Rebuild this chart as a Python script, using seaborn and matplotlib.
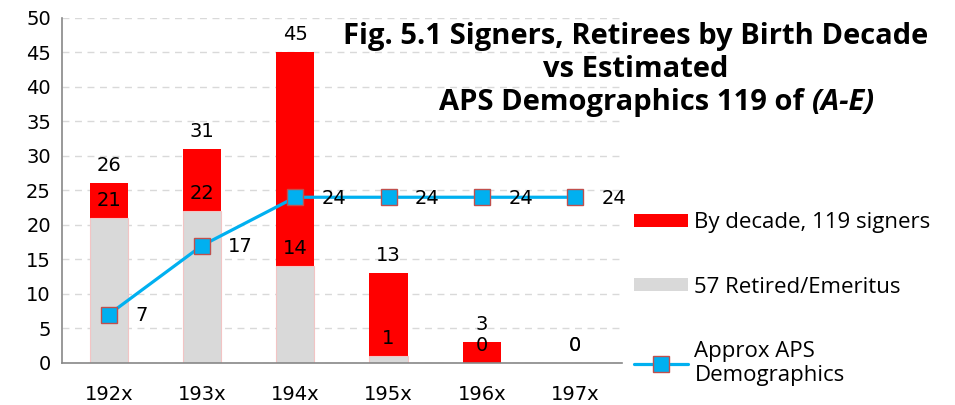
import matplotlib
matplotlib.use("Agg")
import matplotlib.pyplot as plt
import seaborn as sns
import pandas as pd
from matplotlib.patches import Patch
from matplotlib.lines import Line2D

# --- dados ---
decades = ["192x", "193x", "194x", "195x", "196x", "197x"]
signers = [26, 31, 45, 13, 3, 0]
retired = [21, 22, 14, 1, 0, 0]
aps_demo = [7, 17, 24, 24, 24, 24]

RED = "#FF0000"
GRAY = "#D9D9D9"
BLUE = "#00B0F0"
EDGE = "#C0504D"
FS = 14

df = pd.DataFrame({"decade": decades, "signers": signers,
                   "retired": retired, "aps": aps_demo})

sns.set_style("white")
plt.rcParams["font.family"] = ["DejaVu Sans"]
plt.rcParams["text.color"] = "black"
plt.rcParams["xtick.color"] = "black"
plt.rcParams["ytick.color"] = "black"

fig = plt.figure(figsize=(9.55, 4.05), dpi=100)
ax = fig.add_axes([0.065, 0.104, 0.586, 0.852])

sns.barplot(data=df, x="decade", y="signers", color=RED, width=0.41,
            saturation=1, edgecolor="none", ax=ax)
sns.barplot(data=df, x="decade", y="retired", color=GRAY, width=0.41,
            saturation=1, edgecolor="#F2C4C4", linewidth=0.8, ax=ax)
sns.pointplot(data=df, x="decade", y="aps", color=BLUE, markers="s",
              linestyles="-", linewidth=2.3, markersize=11,
              markeredgecolor=EDGE, markeredgewidth=1.0, ax=ax)

# etiquetas das barras
for cont in ax.containers[:2]:
    ax.bar_label(cont, padding=6, fontsize=FS, color="black")

# etiquetas da linha
for i, v in enumerate(aps_demo):
    ax.annotate(str(v), (i, v), xytext=(19, -1), textcoords="offset points",
                ha="left", va="center", fontsize=FS)

ax.set_xlim(-0.5, 5.5)
ax.set_ylim(0, 50)
ax.set_yticks(range(0, 51, 5))
ax.set_xlabel("")
ax.set_ylabel("")
ax.yaxis.grid(True, linestyle=(0, (5, 4)), color="#D9D9D9", linewidth=1)
ax.set_axisbelow(True)

ax.set_xticks([i - 0.5 for i in range(7)], minor=True)
ax.tick_params(axis="x", which="major", length=0, pad=16, labelsize=FS)
ax.tick_params(axis="x", which="minor", length=7, color="#888888", width=1)
ax.tick_params(axis="y", length=5, color="#888888", labelsize=FS, pad=3)
for s in ["top", "right"]:
    ax.spines[s].set_visible(False)
for s in ["left", "bottom"]:
    ax.spines[s].set_color("#888888")
    ax.spines[s].set_linewidth(1.2)

# titulo
tfont = dict(family="Open Sans", weight="bold", fontsize=21, color="black")
fig.text(0.666, 1 - 44 / 405, "Fig. 5.1 Signers, Retirees by Birth Decade",
         ha="center", va="baseline", **tfont)
fig.text(0.666, 1 - 77 / 405, "vs Estimated", ha="center", va="baseline", **tfont)
fig.text(0.850, 1 - 110 / 405, "APS Demographics 119 of ", ha="right",
         va="baseline", **tfont)
fig.text(0.850, 1 - 110 / 405, "(A-E)", ha="left", va="baseline",
         style="italic", **tfont)

handles = [Patch(facecolor=RED, edgecolor="none"),
           Patch(facecolor=GRAY, edgecolor="none"),
           Line2D([], [], color=BLUE, lw=2.3, marker="s", markersize=11,
                  markerfacecolor=BLUE, markeredgecolor=EDGE)]
labels = ["By decade, 119 signers", "57 Retired/Emeritus",
          "Approx APS\nDemographics"]
fig.legend(handles, labels, loc="upper left", bbox_to_anchor=(0.655, 0.498),
           frameon=False, prop=dict(family="Open Sans", size=16),
           handlelength=2.4, handleheight=0.5, handletextpad=0.3,
           labelspacing=1.95, borderaxespad=0)

fig.savefig("out.png", dpi=100)
